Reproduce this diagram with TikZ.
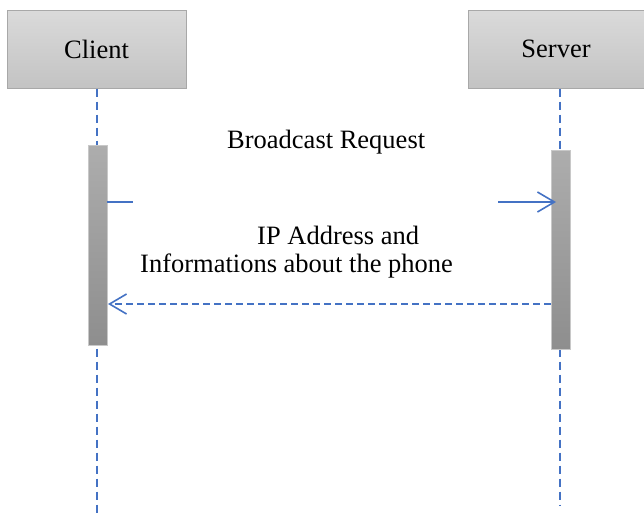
\documentclass[tikz,border=0pt]{standalone}
\usepackage{fontspec}
\setmainfont{Liberation Serif}
\usetikzlibrary{arrows.meta}
\definecolor{lineblue}{HTML}{4472C4}
\definecolor{boxtop}{HTML}{DADADA}
\definecolor{boxbot}{HTML}{C3C3C3}
\definecolor{boxedge}{HTML}{A8A8A8}
\definecolor{bartop}{HTML}{ADADAD}
\definecolor{barbot}{HTML}{8E8E8E}
\definecolor{baredge}{HTML}{C8C8C8}
\tikzset{
  actor/.style={draw=boxedge, line width=1pt, top color=boxtop, bottom color=boxbot,
    minimum height=78pt, inner sep=0pt, font=\fontsize{26.5}{30}\selectfont},
  actbar/.style={draw=baredge, line width=0.8pt, top color=bartop, bottom color=barbot,
    minimum width=19pt, inner sep=0pt},
  lifeline/.style={draw=lineblue, line width=1.5pt, dash pattern=on 8pt off 5pt},
  msg/.style={draw=lineblue, line width=1.5pt},
  reply/.style={draw=lineblue, line width=1.5pt, dash pattern=on 7pt off 4pt},
  tip/.style={-{Straight Barb[length=17pt,width=20pt,line width=1.6pt]}},
  lbl/.style={anchor=base west, inner sep=0pt, font=\fontsize{26.5}{30}\selectfont}
}
\begin{document}
\begin{tikzpicture}[x=1pt,y=-1pt]
\useasboundingbox (0,0) rectangle (644,514);
% actors
\node[actor, minimum width=179pt] (client) at (96.5,49) {Client};
\node[actor, minimum width=176pt] (server) at (556,49) {Server};
% lifeline ends
\coordinate (cend) at (97,514);
\coordinate (send) at (560,506);
\draw[lifeline] (client.south -| cend) -- (cend);
\draw[lifeline] (server.south -| send) -- (send);
% activation bars
\node[actbar, minimum height=200pt] (cbar) at (97.5,245) {};
\node[actbar, minimum height=199pt] (sbar) at (560.5,249.5) {};
% broadcast request
\coordinate (b1) at (133,202);
\coordinate (b2) at (498,202);
\coordinate (b3) at (556,202);
\draw[msg] (cbar.east |- b1) -- (b1);
\draw[msg, tip] (b2) -- (b3);
\node[lbl] (lreq) at (227,148) {Broadcast Request};
% reply
\coordinate (r1) at (108,304);
\draw[reply, tip] (sbar.west |- r1) -- (r1);
\node[lbl] (lip) at (257,244) {IP Address and};
\node[lbl] (linfo) at (140,272) {Informations about the phone};
\end{tikzpicture}
\end{document}
